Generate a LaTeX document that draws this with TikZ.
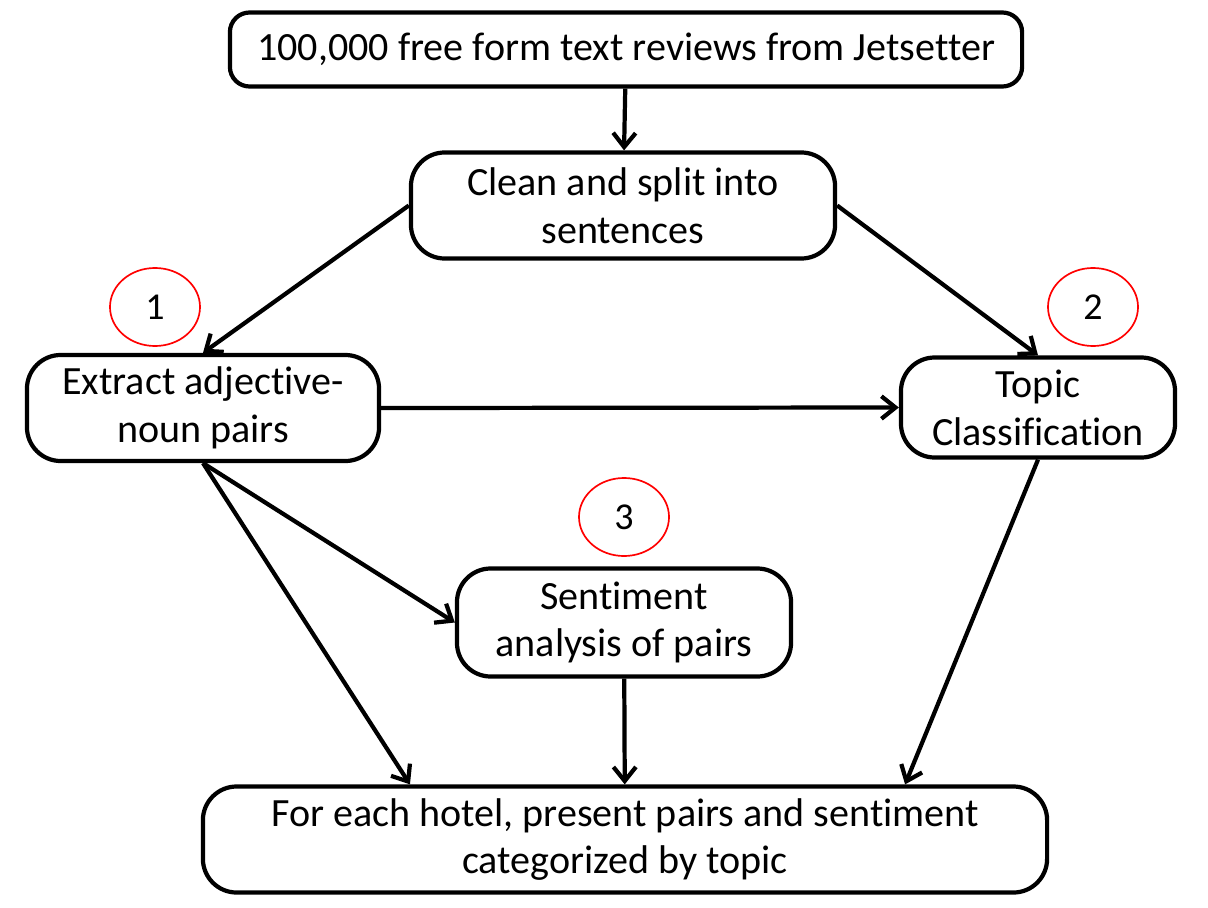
\documentclass[tikz,border=0pt]{standalone}
\usepackage{fontspec}
\setmainfont{Carlito}[Ligatures=NoCommon]
\usetikzlibrary{shapes.geometric, arrows.meta, positioning}

\begin{document}
\begin{tikzpicture}[
  x=0.025cm, y=-0.025cm,
  box/.style={rectangle, rounded corners=24pt, draw=black, line width=3pt,
    fill=white, align=center, inner sep=0pt, font=\fontsize{28.5}{34}\selectfont},
  numcircle/.style={ellipse, draw=red, line width=1.2pt, minimum width=2.25cm,
    minimum height=1.95cm, font=\fontsize{27}{30}\selectfont},
  arrow/.style={-{Straight Barb[length=10pt, width=16pt]}, line width=3pt}
]
\useasboundingbox (0,0) rectangle (1208,907);

\node[box, rounded corners=14pt, minimum width=19.8cm, minimum height=1.85cm] (src) at (626,49.5)
  {100,000 free form text reviews from Jetsetter};
\node[box, minimum width=10.6cm, minimum height=2.65cm] (clean) at (623,205.5)
  {Clean and split into\\ sentences};
\node[box, minimum width=8.8cm, minimum height=2.65cm] (pairs) at (203,408)
  {Extract adjective-\\ noun pairs};
\node[box, minimum width=6.85cm, minimum height=2.5cm] (topic) at (1038,407.5)
  {Topic\\ Classification};
\node[box, minimum width=8.35cm, minimum height=2.7cm] (senti) at (624,622.5)
  {Sentiment\\ analysis of pairs};
\node[box, minimum width=21.1cm, minimum height=2.65cm] (out) at (625,839.5)
  {For each hotel, present pairs and sentiment\\ categorized by topic};

\node[numcircle] (n1) at (155,307) {1};
\node[numcircle] (n2) at (1093,307) {2};
\node[numcircle] (n3) at (624,517) {3};

\draw[arrow] (src) -- (clean);
\draw[arrow] (clean.west) -- (pairs.north);
\draw[arrow] (clean.east) -- (topic.north);
\draw[arrow] (pairs.east) -- (topic.west);
\draw[arrow] (pairs.south) -- (senti.west);
\draw[arrow] (pairs.south) -- ([xshift=-5.375cm]out.north);
\draw[arrow] (senti) -- (out);
\draw[arrow] (topic.south) -- ([xshift=7cm]out.north);

\end{tikzpicture}
\end{document}
